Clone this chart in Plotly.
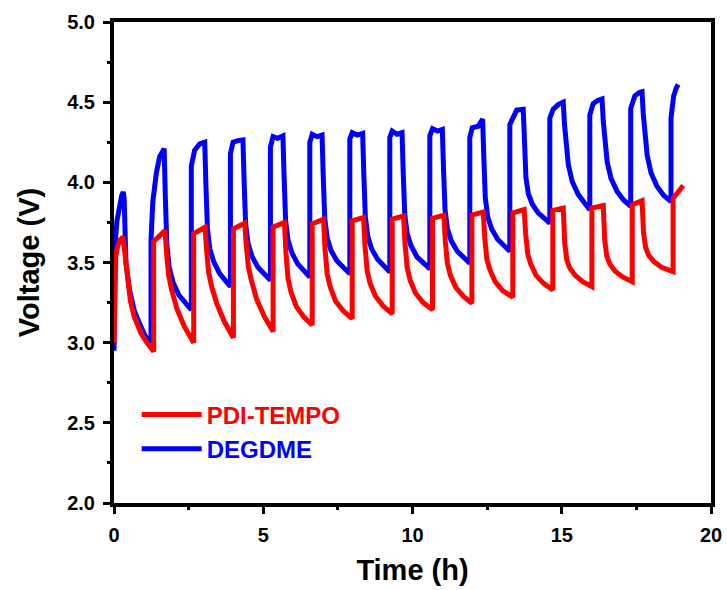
import plotly.graph_objects as go

# Galvanostatic cycling traces: time (h) and cell voltage (V), one row per cycle
pdi_time = [
    0.00, 0.02, 0.06, 0.12, 0.20, 0.30, 0.38, 0.45, 0.55, 0.68, 0.90, 1.10, 1.33,
    1.33, 1.71, 1.76, 1.83, 1.93, 2.11, 2.36, 2.67,
    2.67, 3.05, 3.10, 3.17, 3.27, 3.45, 3.70, 4.00,
    4.00, 4.38, 4.43, 4.50, 4.60, 4.78, 5.03, 5.33,
    5.33, 5.71, 5.76, 5.83, 5.93, 6.11, 6.36, 6.64,
    6.64, 7.02, 7.07, 7.14, 7.24, 7.42, 7.67, 7.98,
    7.98, 8.36, 8.41, 8.48, 8.58, 8.76, 9.01, 9.32,
    9.32, 9.70, 9.75, 9.82, 9.92, 10.10, 10.35, 10.67,
    10.67, 11.05, 11.10, 11.17, 11.27, 11.45, 11.70, 11.99,
    11.99, 12.37, 12.42, 12.49, 12.59, 12.77, 13.02, 13.36,
    13.36, 13.74, 13.79, 13.86, 13.96, 14.14, 14.39, 14.70,
    14.70, 15.05, 15.10, 15.17, 15.27, 15.45, 15.70, 16.01,
    16.01, 16.39, 16.44, 16.51, 16.61, 16.79, 17.04, 17.36,
    17.36, 17.69, 17.74, 17.81, 17.91, 18.09, 18.34, 18.73,
    18.73, 18.85, 19.07,
]
pdi_voltage = [
    3.00, 3.40, 3.54, 3.60, 3.64, 3.66, 3.55, 3.40, 3.26, 3.16, 3.06, 3.00, 2.945,
    3.63, 3.70, 3.56, 3.42, 3.33, 3.21, 3.10, 3.00,
    3.68, 3.72, 3.58, 3.44, 3.35, 3.24, 3.13, 3.03,
    3.71, 3.745, 3.61, 3.475, 3.39, 3.27, 3.165, 3.07,
    3.72, 3.75, 3.56, 3.40, 3.315, 3.225, 3.16, 3.11,
    3.74, 3.77, 3.585, 3.43, 3.35, 3.26, 3.20, 3.15,
    3.76, 3.78, 3.60, 3.45, 3.37, 3.29, 3.23, 3.18,
    3.77, 3.79, 3.615, 3.47, 3.39, 3.31, 3.25, 3.205,
    3.775, 3.795, 3.63, 3.495, 3.42, 3.345, 3.29, 3.246,
    3.795, 3.815, 3.655, 3.52, 3.455, 3.38, 3.325, 3.283,
    3.81, 3.83, 3.68, 3.555, 3.49, 3.42, 3.37, 3.329,
    3.825, 3.84, 3.62, 3.515, 3.465, 3.42, 3.38, 3.35,
    3.84, 3.855, 3.64, 3.54, 3.49, 3.445, 3.41, 3.38,
    3.86, 3.885, 3.685, 3.595, 3.545, 3.505, 3.47, 3.443,
    3.90, 3.93, 3.98,
]

degdme_time = [
    0.00, 0.01, 0.04, 0.10, 0.18, 0.26, 0.31, 0.34, 0.37, 0.40, 0.52, 0.68, 0.90, 1.05, 1.24,
    1.24, 1.30, 1.42, 1.53, 1.68, 1.72, 1.77, 1.85, 1.98, 2.18, 2.40, 2.59,
    2.59, 2.70, 2.87, 3.04, 3.08, 3.13, 3.21, 3.34, 3.54, 3.76, 3.90,
    3.90, 3.99, 4.15, 4.32, 4.36, 4.41, 4.49, 4.62, 4.82, 5.04, 5.24,
    5.24, 5.33, 5.48, 5.66, 5.70, 5.75, 5.83, 5.96, 6.16, 6.38, 6.56,
    6.56, 6.64, 6.80, 6.97, 7.01, 7.06, 7.14, 7.27, 7.47, 7.69, 7.90,
    7.90, 7.98, 8.15, 8.33, 8.37, 8.42, 8.50, 8.63, 8.83, 9.05, 9.24,
    9.24, 9.32, 9.48, 9.65, 9.69, 9.74, 9.82, 9.95, 10.15, 10.37, 10.58,
    10.58, 10.67, 10.84, 11.00, 11.04, 11.09, 11.17, 11.30, 11.50, 11.72, 11.92,
    11.92, 12.00, 12.20, 12.35, 12.39, 12.44, 12.52, 12.65, 12.85, 13.07, 13.26,
    13.26, 13.37, 13.49, 13.71, 13.75, 13.80, 13.88, 14.01, 14.21, 14.43, 14.60,
    14.60, 14.71, 14.88, 15.05, 15.09, 15.14, 15.22, 15.35, 15.55, 15.77, 15.94,
    15.94, 16.05, 16.20, 16.35, 16.39, 16.44, 16.52, 16.65, 16.85, 17.07, 17.31,
    17.31, 17.45, 17.60, 17.69, 17.73, 17.78, 17.86, 17.99, 18.19, 18.41, 18.66,
    18.66, 18.75, 18.84, 18.90,
]
degdme_voltage = [
    2.95, 3.35, 3.62, 3.76, 3.86, 3.92, 3.94, 3.90, 3.70, 3.50, 3.33, 3.20, 3.10, 3.04, 3.00,
    3.64, 3.88, 4.06, 4.16, 4.21, 3.91, 3.61, 3.47, 3.375, 3.295, 3.245, 3.205,
    4.10, 4.20, 4.24, 4.25, 3.98, 3.71, 3.585, 3.505, 3.43, 3.385, 3.35,
    4.18, 4.25, 4.26, 4.265, 4.00, 3.74, 3.62, 3.54, 3.47, 3.425, 3.39,
    4.22, 4.285, 4.275, 4.29, 4.025, 3.76, 3.64, 3.56, 3.49, 3.445, 3.41,
    4.25, 4.30, 4.285, 4.295, 4.035, 3.775, 3.655, 3.575, 3.51, 3.465, 3.43,
    4.27, 4.31, 4.295, 4.305, 4.045, 3.785, 3.665, 3.585, 3.52, 3.475, 3.44,
    4.28, 4.32, 4.30, 4.31, 4.055, 3.80, 3.68, 3.605, 3.535, 3.495, 3.46,
    4.29, 4.335, 4.32, 4.33, 4.08, 3.83, 3.71, 3.635, 3.57, 3.53, 3.495,
    4.28, 4.34, 4.35, 4.395, 4.15, 3.90, 3.785, 3.71, 3.645, 3.60, 3.57,
    4.36, 4.41, 4.45, 4.455, 4.24, 4.03, 3.93, 3.865, 3.81, 3.775, 3.745,
    4.40, 4.455, 4.485, 4.50, 4.365, 4.23, 4.11, 4.005, 3.925, 3.87, 3.83,
    4.42, 4.49, 4.51, 4.52, 4.385, 4.25, 4.13, 4.025, 3.945, 3.89, 3.85,
    4.46, 4.54, 4.56, 4.565, 4.43, 4.29, 4.17, 4.06, 3.975, 3.92, 3.88,
    4.40, 4.54, 4.59, 4.61,
]

x_ticks = [0, 5, 10, 15, 20]
y_ticks = [2.0, 2.5, 3.0, 3.5, 4.0, 4.5, 5.0]

FONT = "Liberation Sans, Arial, sans-serif"

fig = go.Figure()
fig.add_trace(go.Scatter(
    x=degdme_time, y=degdme_voltage, mode="lines",
    name='<span style="color:#0000FF">DEGDME</span>',
    line=dict(color="#0000FF", width=5), legendrank=2,
))
fig.add_trace(go.Scatter(
    x=pdi_time, y=pdi_voltage, mode="lines",
    name='<span style="color:#FF0000">PDI-TEMPO</span>',
    line=dict(color="#FF0000", width=5), legendrank=1,
))

axis_common = dict(
    showline=True, linecolor="black", linewidth=4, mirror=True,
    ticks="outside", ticklen=7, tickwidth=3, tickcolor="black",
    showgrid=False, zeroline=False, automargin=False,
    tickfont=dict(family=FONT, size=20, color="black", weight="bold"),
    ticklabelstandoff=4,
)

fig.update_xaxes(
    range=[0, 20], tickvals=x_ticks,
    minor=dict(dtick=2.5, ticks="outside", ticklen=3, tickwidth=3, tickcolor="black"),
    title=dict(text="Time (h)", font=dict(family=FONT, size=29, color="black", weight="bold"),
               standoff=16),
    **axis_common,
)
fig.update_yaxes(
    range=[2, 5], tickvals=y_ticks, tickformat=".1f",
    minor=dict(dtick=0.25, ticks="outside", ticklen=3, tickwidth=3, tickcolor="black"),
    title=dict(text="Voltage (V)", font=dict(family=FONT, size=29, color="black", weight="bold"),
               standoff=20),
    **axis_common,
)

fig.update_layout(
    width=727, height=590,
    margin=dict(l=114, r=16, t=22, b=87),
    paper_bgcolor="white", plot_bgcolor="white",
    showlegend=True,
    legend=dict(
        x=0.038, y=0.230, xanchor="left", yanchor="top",
        bgcolor="rgba(0,0,0,0)", borderwidth=0,
        font=dict(family=FONT, size=24, weight="bold"),
        itemwidth=60, tracegroupgap=0,
    ),
)

fig.write_html("out.html")
